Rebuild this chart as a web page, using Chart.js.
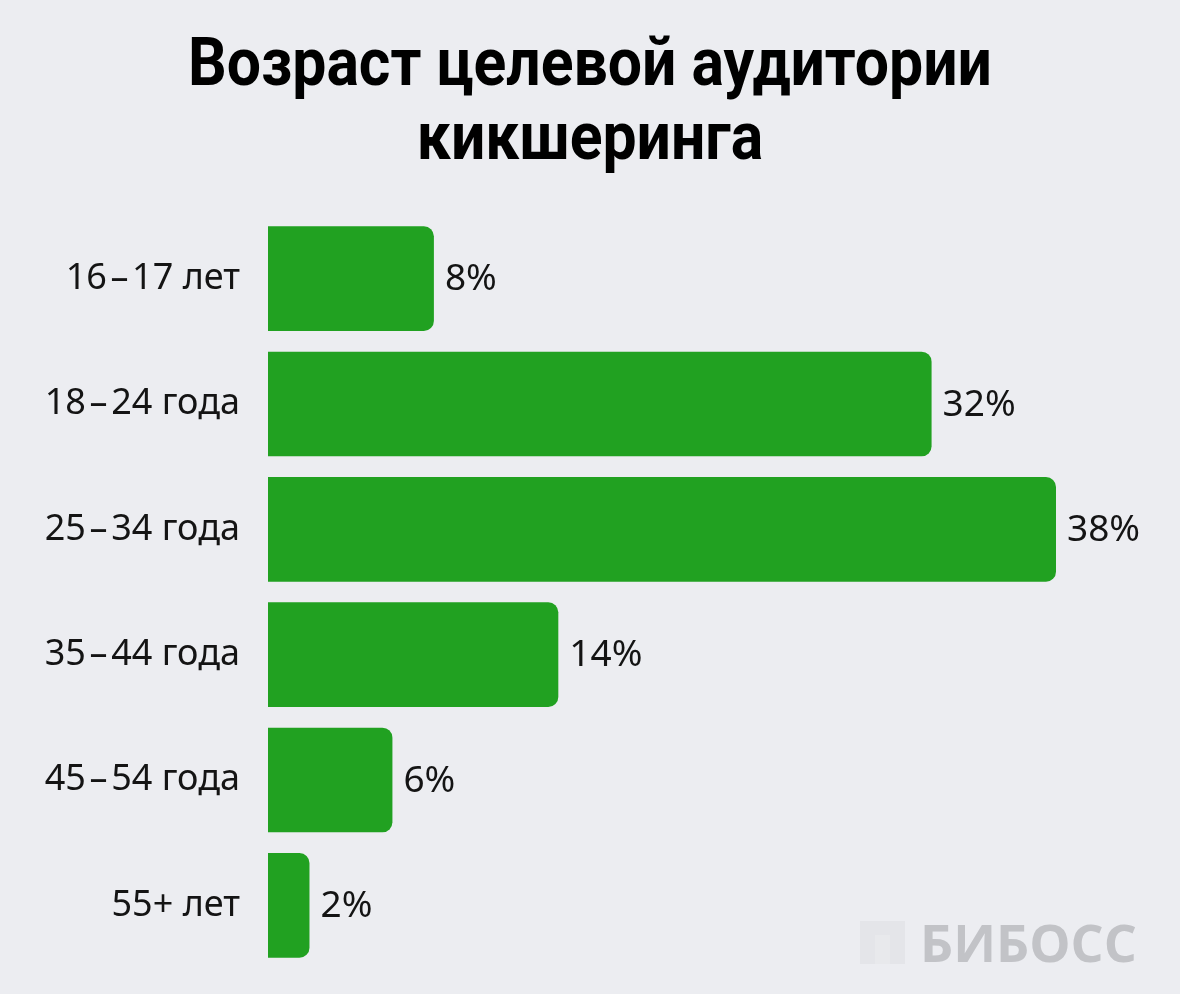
<!DOCTYPE html>
<html><head><meta charset="utf-8">
<script src="https://cdn.jsdelivr.net/npm/chart.js@4/dist/chart.umd.min.js"></script>
<style>
html,body{margin:0;padding:0;background:#ECEDF1;}
#wrap{width:1180px;height:994px;position:relative;}
</style></head>
<body><div id="wrap"><canvas id="c"></canvas></div>
<script>
const titleLines = ['Возраст целевой аудитории', 'кикшеринга'];
const categories = ['16\u200A–\u200A17 лет', '18\u200A–\u200A24 года', '25\u200A–\u200A34 года', '35\u200A–\u200A44 года', '45\u200A–\u200A54 года', '55+ лет'];
const values = [8, 32, 38, 14, 6, 2];
const valueLabels = ['8%', '32%', '38%', '14%', '6%', '2%'];
const watermark = 'БИБОСС';

const titlePlugin = {
  id: 'condensedTitle',
  afterDraw(chart) {
    const ctx = chart.ctx;
    ctx.save();
    ctx.font = 'bold 66px Roboto';
    ctx.fillStyle = '#000';
    ctx.textBaseline = 'alphabetic';
    ctx.textAlign = 'center';
    const w0 = ctx.measureText(titleLines[0]).width;
    const sx = 804 / w0;
    const cx = chart.width / 2;
    const baselines = [85, 159];
    titleLines.forEach((line, i) => {
      ctx.save();
      ctx.translate(cx, baselines[i]);
      ctx.scale(sx, 1);
      ctx.fillText(line, 0, 0);
      ctx.restore();
    });
    ctx.restore();
  }
};

const valueLabelPlugin = {
  id: 'valueLabels',
  afterDatasetsDraw(chart) {
    const ctx = chart.ctx;
    const meta = chart.getDatasetMeta(0);
    ctx.save();
    ctx.font = '37px "Noto Sans"';
    ctx.fillStyle = '#141414';
    ctx.textAlign = 'left';
    ctx.textBaseline = 'middle';
    meta.data.forEach((bar, i) => {
      ctx.fillText(valueLabels[i], bar.x + 11, bar.y + 1);
    });
    ctx.restore();
  }
};

const watermarkPlugin = {
  id: 'watermark',
  afterDraw(chart) {
    const ctx = chart.ctx;
    ctx.save();
    ctx.fillStyle = '#E4E5E9';
    ctx.fillRect(860, 921, 45, 43);
    ctx.fillStyle = '#E8E9EC';
    ctx.fillRect(875, 935, 15, 29);
    ctx.font = 'bold 52px "Open Sans"';
    ctx.fillStyle = '#C2C3C7';
    ctx.textAlign = 'left';
    ctx.textBaseline = 'alphabetic';
    ctx.fillText(watermark, 920, 962);
    ctx.restore();
  }
};

new Chart(document.getElementById('c'), {
  type: 'bar',
  data: {
    labels: categories,
    datasets: [{
      data: values,
      backgroundColor: '#21A121',
      borderRadius: 10,
      borderSkipped: 'start',
      barPercentage: 0.835,
      categoryPercentage: 1.0
    }]
  },
  options: {
    indexAxis: 'y',
    responsive: true,
    maintainAspectRatio: false,
    animation: false,
    layout: { padding: { left: 0, right: 124, top: 216, bottom: 26 } },
    plugins: {
      legend: { display: false },
      tooltip: { enabled: false },
      title: { display: false }
    },
    scales: {
      x: {
        min: 0, max: 38,
        display: false
      },
      y: {
        grid: { display: false },
        border: { display: false },
        ticks: {
          color: '#141414',
          font: { family: '"Noto Sans"', size: 36 },
          padding: 20
        },
        afterFit(scale) {
          scale.width = 268;
          scale.paddingTop = 0;
          scale.paddingBottom = 0;
        }
      }
    }
  },
  plugins: [valueLabelPlugin, titlePlugin, watermarkPlugin]
});
</script>
</body></html>
